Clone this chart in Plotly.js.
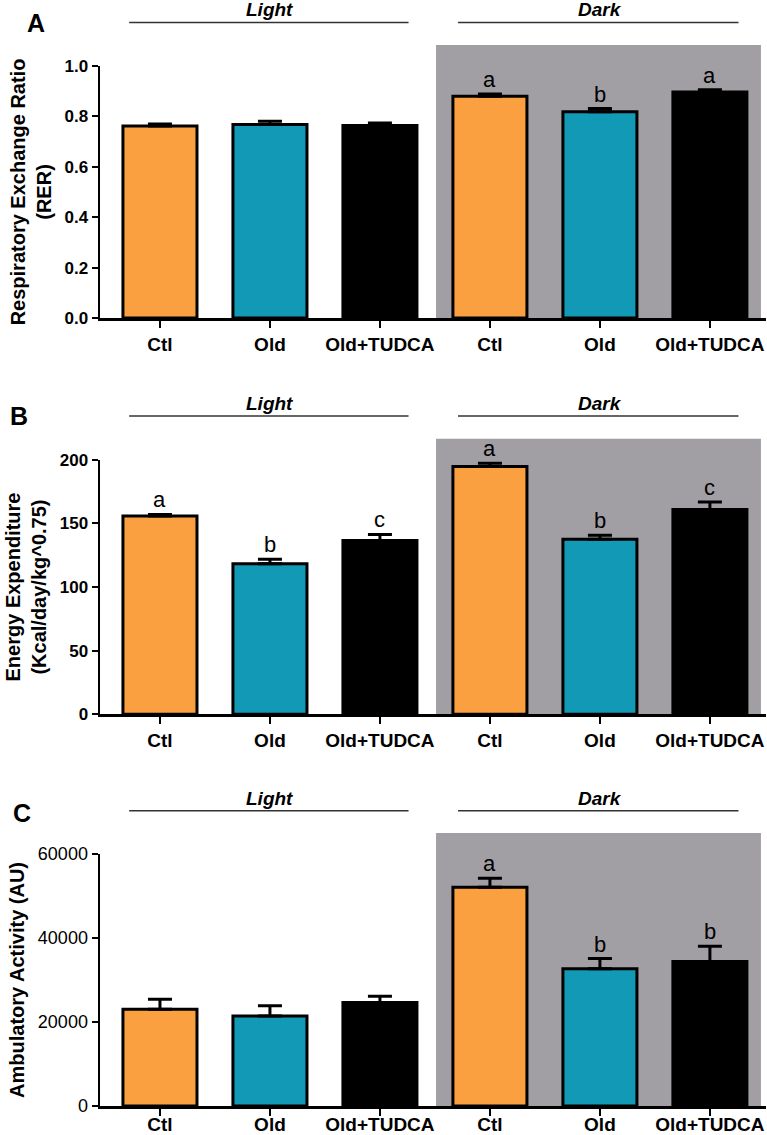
<!DOCTYPE html>
<html>
<head>
<meta charset="utf-8">
<script src="https://cdn.plot.ly/plotly-3.0.1.min.js"></script>
<style>html,body{margin:0;padding:0;background:#fff}#chart{width:767px;height:1135px}</style>
</head>
<body>
<div id="chart"></div>
<script>
// ---- data ----
var groups = ['Ctl', 'Old', 'Old+TUDCA', 'Ctl', 'Old', 'Old+TUDCA'];
var phases = ['Light', 'Dark'];
var panelLetters = ['A', 'B', 'C'];

var rer    = [0.762, 0.768, 0.764, 0.880, 0.818, 0.897];
var rerErr = [0.008, 0.013, 0.010, 0.009, 0.013, 0.009];
var rerSig = ['', '', '', 'a', 'b', 'a'];

var ee    = [155.8, 118.3, 136.5, 194.7, 137.5, 160.9];
var eeErr = [1.2, 3.6, 4.8, 2.6, 3.2, 6.0];
var eeSig = ['a', 'b', 'c', 'a', 'b', 'c'];

var amb    = [23000, 21400, 24660, 52070, 32660, 34400];
var ambErr = [2400, 2450, 1450, 2150, 2450, 3650];
var ambSig = ['', '', '', 'a', 'b', 'b'];

var barColors = ['#FBA040', '#1199B5', '#000000', '#FBA040', '#1199B5', '#000000'];

// ---- build ----
var FONT = 'Liberation Sans, Arial, Helvetica, sans-serif';
var xpos = groups.map(function (g, i) { return i; });

var panels = [
  {vals: rer, errs: rerErr, sig: rerSig, range: [0, 1.0], dtick: 0.2, fmt: '.1f',
   title: 'Respiratory Exchange Ratio<br>(RER)', domain: [0.7198, 0.9419], tickBold: true, lblOff: 0},
  {vals: ee, errs: eeErr, sig: eeSig, range: [0, 200], dtick: 50, fmt: 'd',
   title: 'Energy Expenditure<br>(Kcal/day/kg^0.75)', domain: [0.3707, 0.5949], tickBold: true, lblOff: 0},
  {vals: amb, errs: ambErr, sig: ambSig, range: [0, 60000], dtick: 20000, fmt: 'd',
   title: 'Ambulatory Activity (AU)', domain: [0.0256, 0.2476], tickBold: false, lblOff: -8}
];
var letterPos = [[0.0463, 0.9797], [0.0248, 0.6335], [0.0287, 0.2841]];

var data = [], shapes = [], annotations = [];
var layout = {
  width: 767, height: 1135,
  margin: {l: 0, r: 0, t: 0, b: 0},
  paper_bgcolor: '#fff', plot_bgcolor: 'rgba(0,0,0,0)',
  showlegend: false,
  font: {family: FONT, color: '#000'}
};

panels.forEach(function (p, k) {
  var n = k + 1;
  var xa = 'x' + (n === 1 ? '' : n), ya = 'y' + (n === 1 ? '' : n);
  data.push({
    type: 'bar', x: xpos, y: p.vals, width: 0.673,
    xaxis: xa, yaxis: ya,
    marker: {color: barColors, line: {color: '#000', width: 3}},
    error_y: {type: 'data', symmetric: false, array: p.errs,
              arrayminus: p.errs.map(function () { return 0; }),
              color: '#000', thickness: 3, width: 12},
    hoverinfo: 'none'
  });
  layout['xaxis' + (n === 1 ? '' : n)] = {
    domain: [0.1304, 0.9987], anchor: ya, range: [-0.545, 5.51],
    tickvals: xpos, ticktext: groups,
    showline: true, linecolor: '#000', linewidth: 3,
    ticks: 'outside', ticklen: 7, tickwidth: 2.5, tickcolor: '#000',
    ticklabelstandoff: p.lblOff,
    showgrid: false, zeroline: false, fixedrange: true,
    tickfont: {family: FONT, size: 19, color: '#000', weight: 'bold'}
  };
  layout['yaxis' + (n === 1 ? '' : n)] = {
    domain: p.domain, anchor: xa, range: p.range, dtick: p.dtick, tick0: 0,
    tickformat: p.fmt,
    showline: true, linecolor: '#000', linewidth: 2.5,
    ticks: 'outside', ticklen: 6, tickwidth: 2, tickcolor: '#000',
    showgrid: false, zeroline: false, fixedrange: true,
    tickfont: {family: FONT, size: p.tickBold ? 17 : 18, color: '#000', weight: p.tickBold ? 'bold' : 'normal'},
    title: {text: p.title, standoff: 8, font: {family: FONT, size: 20, color: '#000', weight: 'bold'}}
  };
  // dark phase background
  shapes.push({type: 'rect', xref: xa, yref: ya + ' domain', x0: 2.51, x1: 5.464, y0: 0, y1: 1.083,
               fillcolor: '#A19FA4', line: {width: 0}, layer: 'below'});
  // phase lines + labels
  [[-0.28, 2.26, 1], [2.71, 5.26, 4]].forEach(function (seg, j) {
    shapes.push({type: 'line', xref: xa, yref: ya + ' domain', x0: seg[0], x1: seg[1], y0: 1.172, y1: 1.172,
                 line: {color: '#333', width: 1.5}});
    annotations.push({xref: xa, yref: ya + ' domain', x: seg[2], y: 1.222, text: phases[j],
                      showarrow: false, yanchor: 'middle',
                      font: {family: FONT, size: 19, color: '#000', weight: 'bold', style: 'italic'}});
  });
  // significance letters
  p.sig.forEach(function (s, i) {
    if (!s) return;
    annotations.push({xref: xa, yref: ya, x: i, y: p.vals[i] + p.errs[i], text: s,
                      showarrow: false, yanchor: 'bottom', yshift: 0,
                      font: {family: FONT, size: 22, color: '#000'}});
  });
  // panel letter
  annotations.push({xref: 'paper', yref: 'paper', x: letterPos[k][0], y: letterPos[k][1],
                    text: panelLetters[k], showarrow: false, xanchor: 'center', yanchor: 'middle',
                    font: {family: FONT, size: 25, color: '#000', weight: 'bold'}});
});
layout.shapes = shapes;
layout.annotations = annotations;

Plotly.newPlot('chart', data, layout, {displayModeBar: false, staticPlot: true});
</script>
</body>
</html>
